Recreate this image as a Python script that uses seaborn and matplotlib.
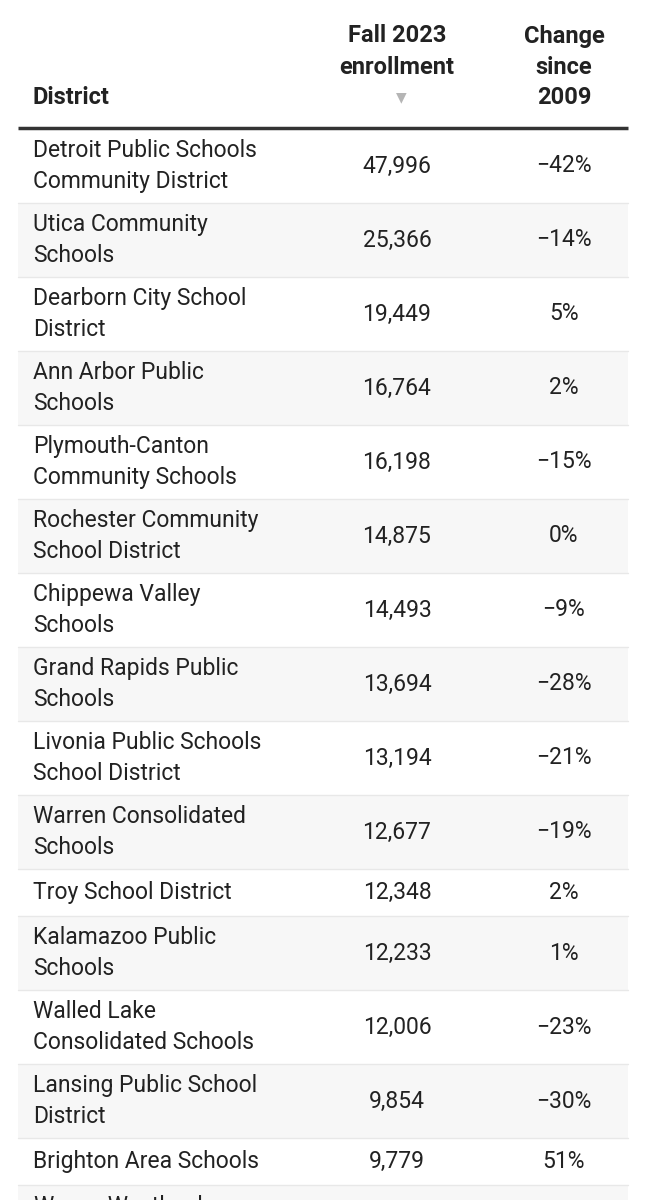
import matplotlib
matplotlib.use("Agg")
import matplotlib.pyplot as plt
import seaborn as sns

districts = ["Detroit Public Schools\nCommunity District", "Utica Community\nSchools",
             "Dearborn City School\nDistrict", "Ann Arbor Public\nSchools",
             "Plymouth-Canton\nCommunity Schools", "Rochester Community\nSchool District",
             "Chippewa Valley\nSchools", "Grand Rapids Public\nSchools",
             "Livonia Public Schools\nSchool District", "Warren Consolidated\nSchools",
             "Troy School District", "Kalamazoo Public\nSchools",
             "Walled Lake\nConsolidated Schools", "Lansing Public School\nDistrict",
             "Brighton Area Schools", "Wayne-Westland\nCommunity Schools"]
enrollment = ["47,996", "25,366", "19,449", "16,764", "16,198", "14,875", "14,493", "13,694",
              "13,194", "12,677", "12,348", "12,233", "12,006", "9,854", "9,779", ""]
change = ["−42%", "−14%", "5%", "2%", "−15%", "0%", "−9%", "−28%", "−21%", "−19%",
          "2%", "1%", "−23%", "−30%", "51%", ""]

sns.set_theme(style="white")
plt.rcParams['font.family'] = ['Roboto', 'DejaVu Sans']

fig = plt.figure(figsize=(6.48, 12), dpi=100)
ax = fig.add_axes([0, 0, 1, 1])
ax.set_xlim(0, 648)
ax.set_ylim(1200, 0)
ax.axis("off")

txt = "#222222"
fs = 16.5
hfs = 17
# header
ax.text(33, 98, "District", fontsize=hfs, fontweight="bold", color=txt, va="center", ha="left")
ax.text(397, 36, "Fall 2023", fontsize=hfs, fontweight="bold", color=txt, va="center", ha="center")
ax.text(397, 67, "enrollment", fontsize=hfs, fontweight="bold", color=txt, va="center", ha="center")
ax.text(401, 97, "▼", fontsize=10, color="#b5b5b5", va="center", ha="center", family=["DejaVu Sans"])
for y, s in zip([36, 67, 98], ["Change", "since", "2009"]):
    ax.text(564, y, s, fontsize=hfs, fontweight="bold", color=txt, va="center", ha="center")

y = 129
for i, (d, e, c) in enumerate(zip(districts, enrollment, change)):
    h = 74 if "\n" in d else 47
    if i % 2 == 1:
        ax.fill_between([18, 628], y, y + h, color="#f7f7f7", lw=0)
    ax.plot([18, 628], [y + h, y + h], color="#e8e8e8", lw=1)
    cy = y + h / 2
    ax.text(33, cy, d, fontsize=fs, color=txt, va="center", ha="left", linespacing=1.42)
    ax.text(397, cy, e, fontsize=fs, color=txt, va="center", ha="center")
    ax.text(564, cy, c, fontsize=fs, color=txt, va="center", ha="center")
    y += h

ax.plot([18, 628], [128, 128], color="#333333", lw=2.5, solid_capstyle="butt")

fig.savefig("out.png", dpi=100, facecolor="white")
